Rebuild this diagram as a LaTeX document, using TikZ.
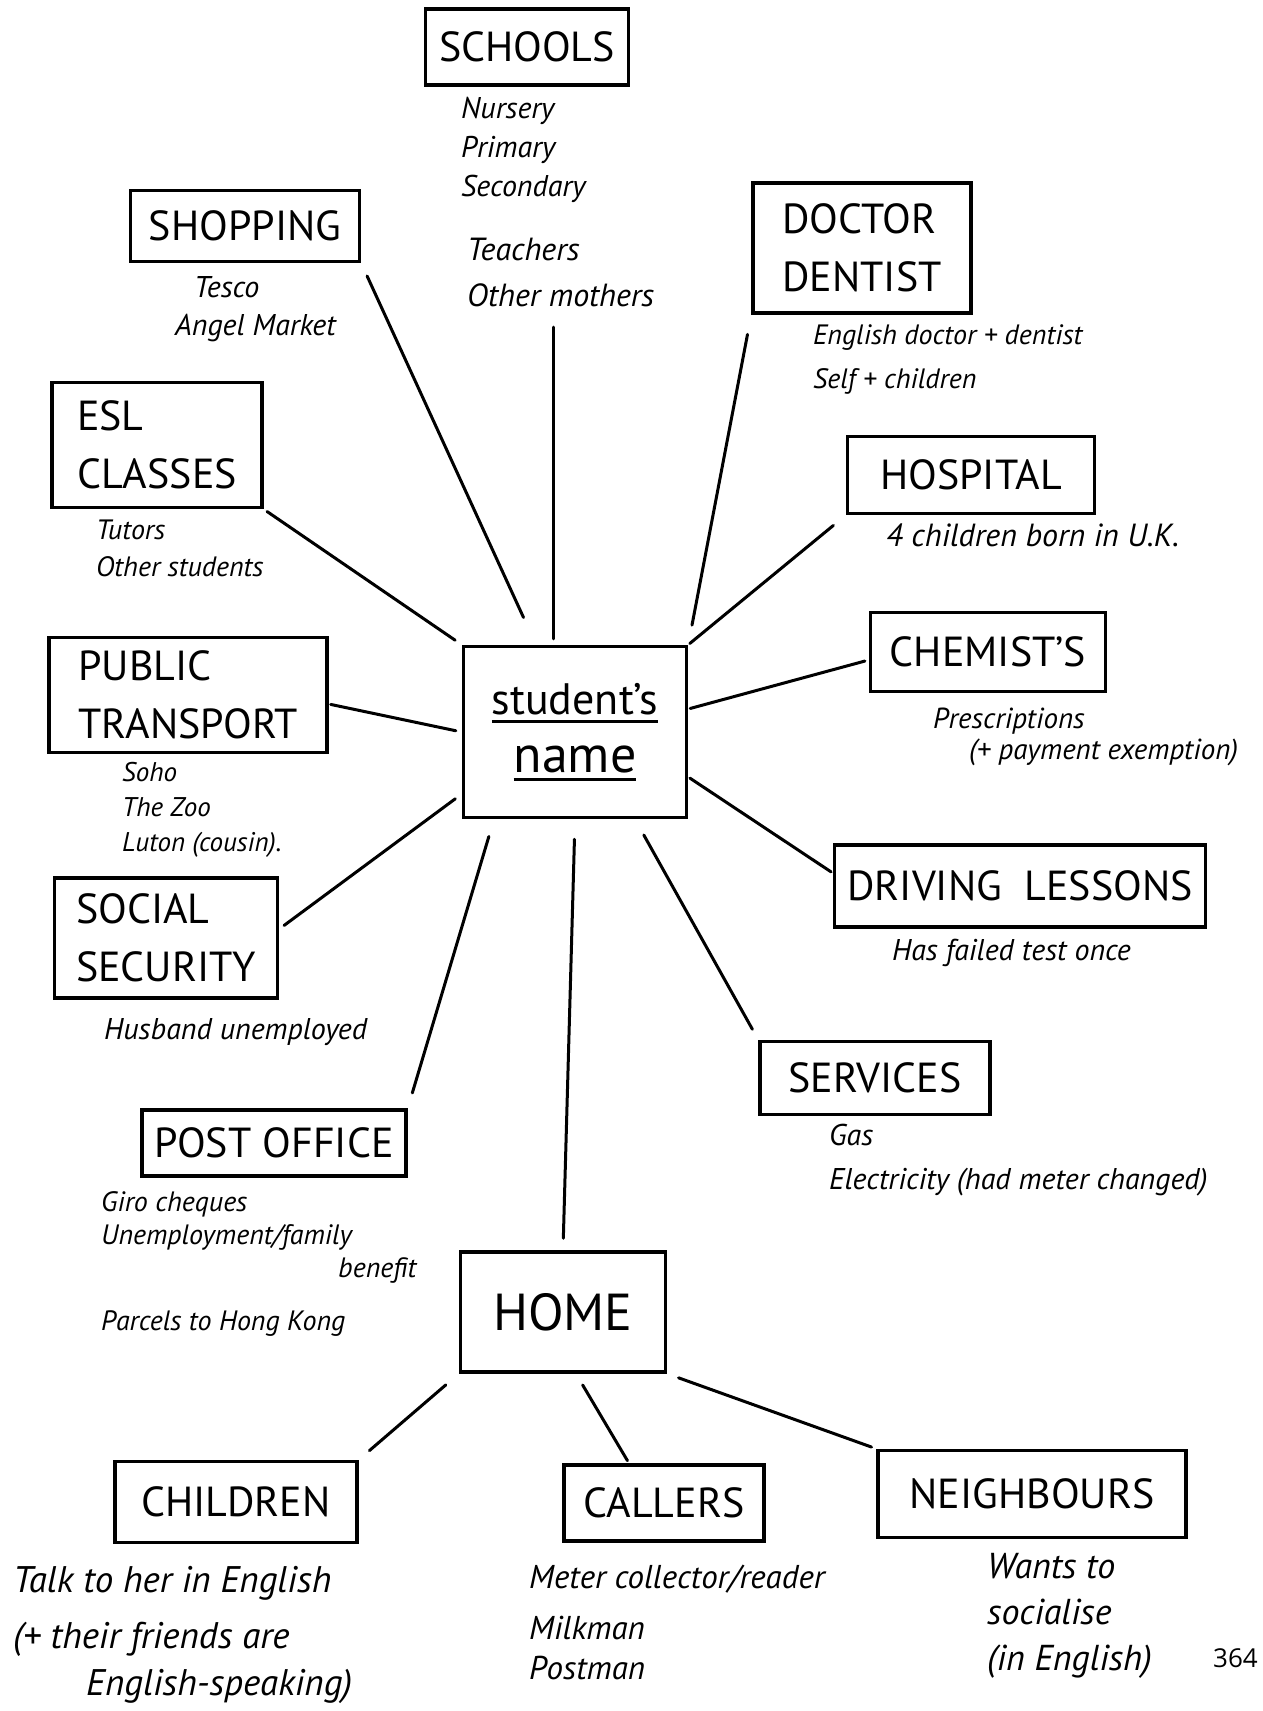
\documentclass[tikz,border=0pt]{standalone}
\usepackage{fontspec}
\setmainfont{PT Sans}
\newfontfamily\pagenofont{Open Sans}
\newcommand\handline[1]{\vtop{\hbox{#1}\kern5pt\hrule height 3.5pt}}

\begin{document}
\begin{tikzpicture}[
    x=1pt, y=-1pt,
    place/.style={draw=black, line width=3.5pt, inner sep=0pt, align=left,
                  font=\fontsize{42}{58}\selectfont},
    note/.style={anchor=north west, inner sep=0pt, align=left,
                 font=\fontsize{30}{38}\selectfont\itshape},
    link/.style={line width=3pt, line cap=round}
]

\fill[white] (0,0) rectangle (1262,1711);
\useasboundingbox (0,0) rectangle (1262,1711);

% the student in the middle
\node[place, align=center, minimum width=223pt, minimum height=171pt,
      font=\fontsize{44}{58}\selectfont] (student) at (575,732)
     {\handline{student's}\\{\fontsize{52}{58}\selectfont\handline{name}}};

% places
\node[place, minimum width=203pt, minimum height=76pt] (schools) at (527,47) {SCHOOLS};
\node[place, minimum width=229pt, minimum height=71pt] (shopping) at (245,226) {SHOPPING};
\node[place, minimum width=218pt, minimum height=130pt] (doctor) at (862,248) {DOCTOR\\DENTIST};
\node[place, minimum width=210pt, minimum height=125pt] (esl) at (157,445) {ESL\\CLASSES};
\node[place, minimum width=247pt, minimum height=77pt] (hospital) at (971,475) {HOSPITAL};
\node[place, minimum width=278pt, minimum height=115pt] (transport) at (188,695) {PUBLIC\\TRANSPORT};
\node[place, minimum width=235pt, minimum height=79pt] (chemist) at (988,652) {CHEMIST'S};
\node[place, minimum width=371pt, minimum height=82pt] (driving) at (1020,886) {DRIVING\ \ LESSONS};
\node[place, minimum width=223pt, minimum height=120pt] (social) at (166,938) {SOCIAL\\SECURITY};
\node[place, minimum width=230pt, minimum height=73pt] (services) at (875,1078) {SERVICES};
\node[place, minimum width=264pt, minimum height=66pt] (post) at (274,1143) {POST OFFICE};
\node[place, minimum width=205pt, minimum height=120pt,
      font=\fontsize{52}{58}\selectfont] (home) at (563,1312) {HOME};
\node[place, minimum width=242pt, minimum height=81pt] (children) at (236,1502) {CHILDREN};
\node[place, minimum width=200pt, minimum height=76pt] (callers) at (664,1503) {CALLERS};
\node[place, minimum width=308pt, minimum height=87pt] (neighbours) at (1032,1494) {NEIGHBOURS};

% notes under the places
\node[note, font=\fontsize{30}{39}\selectfont\itshape] (grades) at (461,97) {Nursery\\Primary\\Secondary};
\node[note, font=\fontsize{32}{46}\selectfont\itshape] (staff) at (467,238) {Teachers\\Other mothers};
\node[note] (shops) at (175,276) {\hspace*{19pt}Tesco\\Angel Market};
\node[note, font=\fontsize{28}{44}\selectfont\itshape] (doctornote) at (813,324) {English doctor + dentist\\Self + children};
\node[note, font=\fontsize{28}{37}\selectfont\itshape] (tutors) at (96,520) {Tutors\\Other students};
\node[note, font=\fontsize{32}{38}\selectfont\itshape] (births) at (886,524) {4 children born in U.K.};
\node[note, font=\fontsize{27}{35}\selectfont\itshape] (trips) at (122,762) {Soho\\The Zoo\\Luton (cousin).};
\node[note, font=\fontsize{29}{31}\selectfont\itshape] (scripts) at (933,708) {Prescriptions\\\hspace*{36pt}(+ payment exemption)};
\node[note] (test) at (892,939) {Has failed test once};
\node[note] (husband) at (104,1018) {Husband unemployed};
\node[note, font=\fontsize{30}{44}\selectfont\itshape] (supply) at (829,1124) {Gas\\Electricity (had meter changed)};
\node[note, font=\fontsize{28}{33}\selectfont\itshape] (giro) at (101,1191)
     {Giro cheques\\Unemployment/family\\\hspace*{237pt}benefit\\[20pt]Parcels to Hong Kong};
\node[note, font=\fontsize{37}{56}\selectfont\itshape] (talk) at (13,1566)
     {Talk to her in English\\(+ their friends are\\[-9pt]\hspace*{73pt}English-speaking)};
\node[note, font=\fontsize{33}{40}\selectfont\itshape] (visitors) at (529,1565)
     {Meter collector/reader\\[11pt]Milkman\\Postman};
\node[note, font=\fontsize{36}{46}\selectfont\itshape] (wants) at (987,1553) {Wants to\\socialise\\(in English)};
\node[anchor=west, inner sep=0pt, font=\pagenofont\fontsize{26}{30}\selectfont] (pageno) at (1213,1658) {364};

% links to the student
\path ([xshift=-22pt]student.north) coordinate (drop);
\draw[link, shorten <=6pt, shorten >=20pt] (drop) -- (drop |- staff.south);
\draw[link, shorten <=30pt, shorten >=14pt] ([xshift=-39pt]student.north) -- (shopping.south east);
\draw[link, shorten <=8pt, shorten >=4pt] (student.north west) -- (esl.south east);
\draw[link, shorten <=6pt, shorten >=2pt] (student.west) -- ([yshift=-9pt]transport.east);
\draw[link, shorten <=8pt, shorten >=6pt] ([yshift=-62pt]student.west) -- ([yshift=9pt]social.east);
\draw[link, shorten <=18pt, shorten >=16pt] ([xshift=-81pt]student.south) -- (post.north east);
\draw[link, shorten <=20pt, shorten >=20pt] (student.north east) -- (doctor.south west);
\draw[link, shorten <=2pt, shorten >=16pt] (student.north east) -- (hospital.south west);
\draw[link, shorten <=2pt, shorten >=4pt] ([yshift=23pt]student.east) -- ([yshift=-8pt]chemist.west);
\draw[link, shorten <=2pt, shorten >=2pt] ([yshift=-45pt]student.east) -- ([yshift=13pt]driving.west);
\draw[link, shorten <=18pt, shorten >=12pt] ([xshift=60pt]student.south) -- (services.north west);
\draw[link, shorten <=20pt, shorten >=12pt] (student.south) -- (home.north);

% links from home
\draw[link, shorten <=17pt, shorten >=14pt] (home.south west) -- (children.north east);
\draw[link, shorten <=13pt, shorten >=3pt] ([xshift=13pt]home.south) -- ([xshift=-35pt]callers.north);
\draw[link, shorten <=12pt, shorten >=5pt] (home.south east) -- (neighbours.north west);

\end{tikzpicture}
\end{document}
